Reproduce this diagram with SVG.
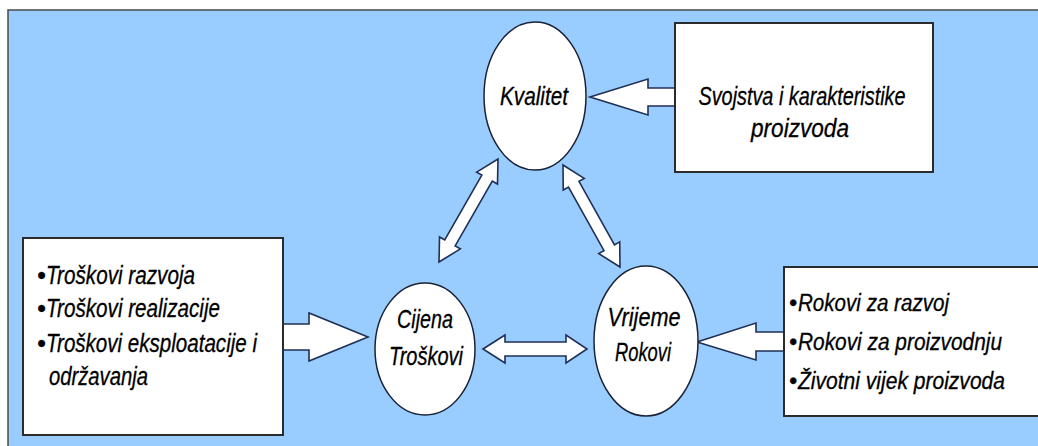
<svg xmlns="http://www.w3.org/2000/svg" width="1038" height="446" viewBox="0 0 1038 446">
<style>
.bgline{fill:none;stroke:#4a4a4a;stroke-width:1.5}
.box{fill:#ffffff;stroke:#2b2b2b;stroke-width:2}
.edge{fill:none;stroke:#2b2b2b;stroke-width:2}
.ell{fill:#ffffff;stroke:#1a2235;stroke-width:1.5}
.arr{fill:#ffffff;stroke:#1f2f55;stroke-width:1.6;stroke-linejoin:miter}
text{font-family:"Liberation Sans",Arial,sans-serif;font-style:italic;font-size:25px;fill:#000;stroke:#000;stroke-width:0.3}
.r{font-size:23px}
.c{text-anchor:middle}
</style>
<rect x="0" y="0" width="1038" height="446" fill="#ffffff"/>
<rect x="8" y="10" width="1030" height="436" fill="#99ccff"/>
<path class="bgline" d="M8,446 V10 H1038"/>

<g id="connectors">
  <polygon class="arr" points="675,88 648,88 648,79 590,97 648,115 648,106 675,106"/>
  <polygon class="arr" points="283,324 309,324 309,313 368,337 309,361 309,350 283,350"/>
  <polygon class="arr" points="784,332 756,332 756,323 697,342 756,360 756,351 784,351"/>
  <polygon class="arr" points="483,349 505,335 505,342 566,342 566,335 587,349 566,363 566,356 505,356 505,363"/>
  <polygon class="arr" transform="translate(498,159) rotate(119.8)" points="0,0 22,-12 22,-6 96.7,-6 96.7,-12 118.7,0 96.7,12 96.7,6 22,6 22,12"/>
  <polygon class="arr" transform="translate(563,165) rotate(60.8)" points="0,0 22,-12 22,-6 94.8,-6 94.8,-12 116.8,0 94.8,12 94.8,6 22,6 22,12"/>
</g>

<g id="kvalitet">
  <ellipse class="ell" cx="535" cy="96" rx="51" ry="74"/>
  <text class="c" x="534" y="105" textLength="68" lengthAdjust="spacingAndGlyphs">Kvalitet</text>
</g>

<g id="svojstva">
  <rect class="box" x="675" y="23" width="258" height="149"/>
  <text class="c" x="802" y="105" textLength="207" lengthAdjust="spacingAndGlyphs">Svojstva i karakteristike</text>
  <text class="c" x="800" y="137" textLength="98" lengthAdjust="spacingAndGlyphs">proizvoda</text>
</g>

<g id="troskovi-box">
  <rect class="box" x="23" y="238" width="260" height="197"/>
  <text x="37" y="284"><tspan>•</tspan><tspan x="46" textLength="149" lengthAdjust="spacingAndGlyphs">Troškovi razvoja</tspan></text>
  <text x="37" y="317"><tspan>•</tspan><tspan x="46" textLength="174" lengthAdjust="spacingAndGlyphs">Troškovi realizacije</tspan></text>
  <text x="37" y="352"><tspan>•</tspan><tspan x="46" textLength="211" lengthAdjust="spacingAndGlyphs">Troškovi eksploatacije i</tspan></text>
  <text x="49" y="385" textLength="99" lengthAdjust="spacingAndGlyphs">održavanja</text>
</g>

<g id="cijena">
  <ellipse class="ell" cx="425" cy="349" rx="50" ry="66"/>
  <text class="c" x="425" y="328" textLength="56" lengthAdjust="spacingAndGlyphs">Cijena</text>
  <text class="c" x="426" y="365" textLength="74" lengthAdjust="spacingAndGlyphs">Troškovi</text>
</g>

<g id="vrijeme">
  <ellipse class="ell" cx="646" cy="341" rx="52" ry="75"/>
  <text class="c" x="644" y="326" textLength="73" lengthAdjust="spacingAndGlyphs">Vrijeme</text>
  <text class="c" x="643" y="361" textLength="56" lengthAdjust="spacingAndGlyphs">Rokovi</text>
</g>

<g id="rokovi-box">
  <rect x="784" y="267" width="254" height="149" fill="#ffffff"/>
  <path class="edge" d="M1038,267 H784 V416 H1038"/>
  <text class="r" x="789" y="311"><tspan>•</tspan><tspan x="798" textLength="151" lengthAdjust="spacingAndGlyphs">Rokovi za razvoj</tspan></text>
  <text class="r" x="789" y="350"><tspan>•</tspan><tspan x="798" textLength="204" lengthAdjust="spacingAndGlyphs">Rokovi za proizvodnju</tspan></text>
  <text class="r" x="789" y="389"><tspan>•</tspan><tspan x="798" textLength="207" lengthAdjust="spacingAndGlyphs">Životni vijek proizvoda</tspan></text>
</g>
</svg>
